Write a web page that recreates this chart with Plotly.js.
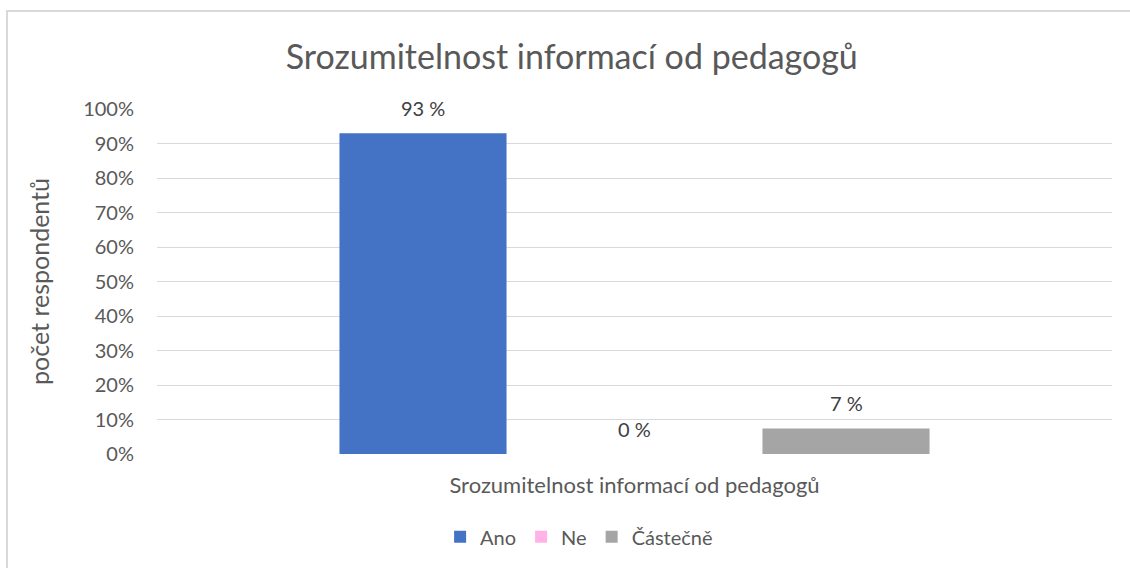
<!DOCTYPE html>
<html><head><meta charset="utf-8">
<script src="https://cdn.plot.ly/plotly-3.0.1.min.js"></script>
<style>
html,body{margin:0;padding:0;background:#fff;}
#chart{width:1130px;height:568px;position:absolute;left:0;top:0;}
#frame{position:absolute;left:6px;top:10px;width:1200px;height:700px;border-left:2px solid #d9d9d9;border-top:2px solid #d9d9d9;pointer-events:none;}
</style></head>
<body>
<div id="chart"></div>
<div id="frame"></div>
<script>
const category = ["Srozumitelnost informací od pedagogů"];
const seriesNames = ["Ano", "Ne", "Částečně"];
const seriesValues = [0.93, 0, 0.074];
const seriesColors = ["#4472c4", "#ffb3e6", "#a5a5a5"];
const yTickVals = [0,0.1,0.2,0.3,0.4,0.5,0.6,0.7,0.8,0.9,1.0];

const FONT = "Lato, 'Open Sans', sans-serif";
const W = 1130, H = 568;
const M = {l:157, r:18, t:109, b:110};
const BARGAP = 0.3356, GROUPGAP = 0.21;
const plotW = W - M.l - M.r;
const slotPx = plotW * (1 - BARGAP) / seriesNames.length;

const traces = seriesNames.map((n,i)=>({
  type:'bar', name:n, x:category, y:[seriesValues[i]],
  marker:{color:seriesColors[i]},
  hoverinfo:'none'
}));

const annotations = seriesNames.map((n,i)=>({
  x:category[0], y:seriesValues[i], xref:'x', yref:'y',
  text: Math.round(seriesValues[i]*100) + ' %',
  showarrow:false, yanchor:'middle',
  xshift:(i - (seriesNames.length-1)/2) * slotPx,
  yshift:25,
  font:{family:FONT,size:20,color:'#404040'}
}));

const layout = {
  width:W, height:H,
  margin:M,
  paper_bgcolor:'rgba(0,0,0,0)', plot_bgcolor:'#fff',
  font:{family:FONT,color:'#595959'},
  title:{text:'Srozumitelnost informací od pedagogů', font:{family:FONT,size:34,color:'#595959'}, x:0.506, xanchor:'center', y:0.9, yref:'container', yanchor:'middle'},
  barmode:'group', bargap:BARGAP, bargroupgap:GROUPGAP,
  xaxis:{type:'category', showgrid:false, zeroline:false, showline:false, ticks:'', tickfont:{family:FONT,size:22,color:'#595959'}, ticklabelstandoff:16},
  yaxis:{range:[0,1], tickvals:yTickVals, tickformat:'.0%', showgrid:true, gridcolor:'#d9d9d9', gridwidth:1, zeroline:false, showline:false, ticks:'', tickfont:{family:FONT,size:20,color:'#595959'}, ticklabelstandoff:22,
    title:{text:'počet respondentů', font:{family:FONT,size:25,color:'#595959'}, standoff:26}},
  legend:{orientation:'h', x:0.442, xanchor:'center', y:-0.24, yanchor:'middle', font:{family:FONT,size:20,color:'#595959'}, traceorder:'normal', itemwidth:30},
  annotations:annotations,
  showlegend:true
};
Plotly.newPlot('chart', traces, layout, {displayModeBar:false, staticPlot:true});
</script>
</body></html>
